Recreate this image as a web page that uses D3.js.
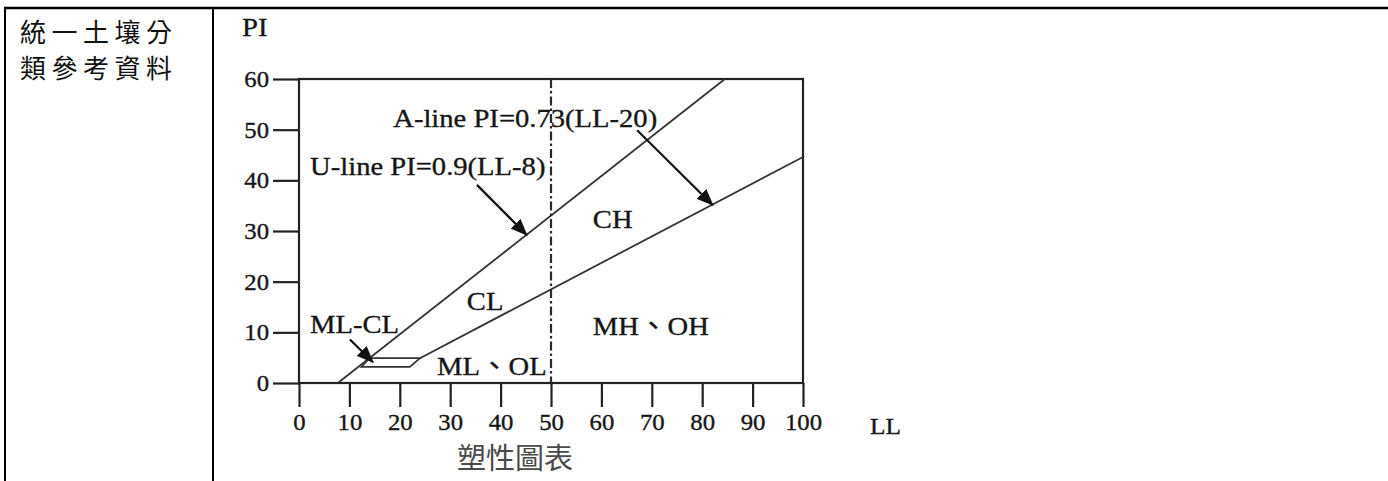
<!DOCTYPE html>
<html lang="zh-Hant">
<head>
<meta charset="utf-8">
<title>塑性圖表</title>
<script src="https://d3js.org/d3.v7.min.js"></script>
<style>
  body { margin: 0; background: #fff; }
  .serif { font-family: "Liberation Serif", "Noto Sans CJK TC", serif; fill: #161616; stroke: #161616; stroke-width: 0.35px; }
  .cjk { font-family: "Noto Sans CJK TC", sans-serif; }
</style>
</head>
<body>
<script>
// axis ticks
var xTicks = [0, 10, 20, 30, 40, 50, 60, 70, 80, 90, 100];
var yTicks = [0, 10, 20, 30, 40, 50, 60];

// the two boundary lines [LL, PI]
var upperLine = [[7.7, 0], [84.5, 60]];
var lowerLine = [[24, 4.9], [100, 44.6]];
// ML-CL strip
var mlclBox = [[14, 4.9], [24, 4.9], [22, 3.2], [12.4, 3.2]];
// LL = 50 divider
var llDivide = [[50, 60], [50, 0]];

// arrows [from, to]
var arrows = [
  [[35.3, 39.1], [45.2, 29.2]],
  [[67.1, 49.9], [82.1, 35.1]],
  [[10.1, 8.6], [14.7, 4.1]]
];

// text labels [text, LL, PI]
var labels = [
  ["A-line PI=0.73(LL-20)", 18.7, 50.5],
  ["U-line PI=0.9(LL-8)", 2.2, 41],
  ["CH", 58.3, 30.6],
  ["CL", 33.3, 14.4],
  ["MH、OH", 58.3, 9.5],
  ["ML、OL", 27.4, 1.6],
  ["ML-CL", 2.2, 9.9]
];

var sideText = ["統一土壤分", "類參考資料"];

var w = 1388, h = 481;
var sx = 1.1; // the chart text is a little wide

var svg = d3.select("body").append("svg")
    .attr("width", w)
    .attr("height", h);

// table lines
svg.append("line").attr("x1", 4).attr("x2", w).attr("y1", 8).attr("y2", 8)
    .attr("stroke", "#000").attr("stroke-width", 2.5);
svg.append("line").attr("x1", 5).attr("x2", 5).attr("y1", 7).attr("y2", h)
    .attr("stroke", "#000").attr("stroke-width", 2);
svg.append("line").attr("x1", 213).attr("x2", 213).attr("y1", 7).attr("y2", h)
    .attr("stroke", "#000").attr("stroke-width", 2);

svg.selectAll(".side")
    .data(sideText)
    .join("text")
    .attr("class", "cjk")
    .attr("x", 20)
    .attr("y", (d, i) => 42 + i * 36)
    .attr("font-size", 26)
    .attr("letter-spacing", 5.5)
    .attr("fill", "#111")
    .text(d => d);

var x = d3.scaleLinear().domain([0, 100]).range([299, 803]);
var y = d3.scaleLinear().domain([0, 60]).range([383, 79]);

var line = d3.line().x(d => x(d[0])).y(d => y(d[1]));

// frame
svg.append("rect")
    .attr("x", x(0)).attr("y", y(60))
    .attr("width", x(100) - x(0)).attr("height", y(0) - y(60))
    .attr("fill", "none").attr("stroke", "#222").attr("stroke-width", 2.2);

var xAxis = svg.append("g")
    .attr("transform", `translate(0,${y(0)})`)
    .call(d3.axisBottom(x).tickValues(xTicks).tickSize(24).tickPadding(7).tickFormat(d3.format("d")));
var yAxis = svg.append("g")
    .attr("transform", `translate(${x(0)},0)`)
    .call(d3.axisLeft(y).tickValues(yTicks).tickSize(26).tickPadding(4).tickFormat(d3.format("d")));

[xAxis, yAxis].forEach(function(a) {
  a.select(".domain").remove();
  a.selectAll(".tick line").attr("stroke", "#222").attr("stroke-width", 2.2);
  a.selectAll(".tick text")
      .attr("class", "serif")
      .attr("font-size", 22.5)
      .attr("fill", "#161616")
      .attr("transform", `scale(${sx},1)`);
});
// keep the y labels ending where they did before the scaling
yAxis.selectAll(".tick text").attr("x", -30 / sx).attr("dy", "0.34em");

// boundary lines
[upperLine, lowerLine].forEach(function(l) {
  svg.append("path").attr("d", line(l))
      .attr("fill", "none").attr("stroke", "#333").attr("stroke-width", 1.8);
});
svg.append("path").attr("d", line(mlclBox) + "Z")
    .attr("fill", "none").attr("stroke", "#333").attr("stroke-width", 1.7);
svg.append("path").attr("d", line(llDivide))
    .attr("fill", "none").attr("stroke", "#2a2a2a").attr("stroke-width", 2.2)
    .attr("stroke-dasharray", "9,3,2.5,3");

// arrows
svg.append("defs").append("marker")
    .attr("id", "head")
    .attr("markerUnits", "userSpaceOnUse")
    .attr("viewBox", "0 0 17 14")
    .attr("refX", 16).attr("refY", 7)
    .attr("markerWidth", 17).attr("markerHeight", 14)
    .attr("orient", "auto")
    .append("path").attr("d", "M0,0L17,7L0,14Z").attr("fill", "#111");

svg.selectAll(".arrow")
    .data(arrows)
    .join("path")
    .attr("class", "arrow")
    .attr("d", d => line(d))
    .attr("stroke", "#111").attr("stroke-width", 2.2)
    .attr("marker-end", "url(#head)");

// labels
svg.selectAll(".lab")
    .data(labels)
    .join("text")
    .attr("class", "serif lab")
    .attr("transform", d => `translate(${x(d[1])},${y(d[2])}) scale(${sx},1)`)
    .attr("font-size", 26)
    .text(d => d[0]);

svg.append("text").attr("class", "serif")
    .attr("transform", `translate(242,36) scale(${sx},1)`)
    .attr("font-size", 26).text("PI");
svg.append("text").attr("class", "serif")
    .attr("transform", `translate(870,434) scale(${sx},1)`)
    .attr("font-size", 23).text("LL");

svg.append("text").attr("class", "cjk")
    .attr("x", 457).attr("y", 469)
    .attr("font-size", 29)
    .attr("fill", "#4a4a4a")
    .text("塑性圖表");
</script>
</body>
</html>
